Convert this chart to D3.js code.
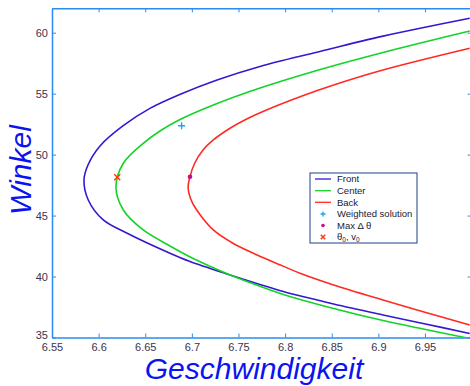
<!DOCTYPE html>
<html>
<head>
<meta charset="utf-8">
<script src="https://cdn.jsdelivr.net/npm/d3@7"></script>
<style>
  html, body { margin: 0; padding: 0; background: #fff; }
  svg { display: block; font-family: "Liberation Sans", Arial, sans-serif; }
</style>
</head>
<body>
<svg id="chart" width="470" height="386"></svg>
<script>
// ---- data (velocity v, angle theta) ----
const frontCurve = [
  [6.998, 61.19], [6.905, 59.72], [6.834, 58.40], [6.773, 57.23], [6.727, 56.12],
  [6.687, 54.93], [6.655, 53.79], [6.626, 52.35], [6.6015, 50.71], [6.5886, 49.15],
  [6.5843, 47.92], [6.5889, 46.28], [6.605, 44.64], [6.6301, 43.57], [6.6765, 41.91],
  [6.698, 41.23], [6.7409, 40.13], [6.773, 39.35], [6.798, 38.77], [6.852, 37.75],
  [6.905, 36.85], [6.948, 36.15], [6.998, 35.33]
];
const centerCurve = [
  [6.998, 60.14], [6.905, 58.38], [6.834, 56.90], [6.762, 55.18], [6.723, 54.07],
  [6.6873, 52.88], [6.6658, 51.94], [6.6479, 50.93], [6.6265, 49.29], [6.6186, 47.37],
  [6.6265, 45.46], [6.6479, 43.82], [6.6765, 42.51], [6.7015, 41.48], [6.7373, 40.25],
  [6.762, 39.51], [6.798, 38.53], [6.852, 37.38], [6.905, 36.39], [6.948, 35.70],
  [6.998, 34.92]
];
const backCurve = [
  [6.998, 58.72], [6.905, 56.94], [6.852, 55.71], [6.816, 54.75], [6.780, 53.66],
  [6.7588, 52.92], [6.7409, 52.16], [6.723, 51.20], [6.712, 50.38], [6.703, 49.29],
  [6.698, 48.19], [6.696, 47.26], [6.700, 46.14], [6.709, 45.05], [6.723, 43.82],
  [6.744, 42.73], [6.770, 41.77], [6.795, 40.95], [6.816, 40.27], [6.852, 39.31],
  [6.905, 38.08], [6.948, 37.12], [6.998, 36.03]
];
const weightedSolution = [6.689, 52.37];
const maxDeltaTheta = [6.698, 48.19];
const theta0v0 = [6.620, 48.14];

const xTicks = [6.55, 6.6, 6.65, 6.7, 6.75, 6.8, 6.85, 6.9, 6.95];
const xTickLabels = ["6.55", "6.6", "6.65", "6.7", "6.75", "6.8", "6.85", "6.9", "6.95"];
const yTicks = [35, 40, 45, 50, 55, 60];
const yTickLabels = ["35", "40", "45", "50", "55", "60"];
const legendLabels = ["Front", "Center", "Back", "Weighted solution", "Max \u0394 \u03b8", "\u03b8"];

// ---- layout ----
const svg = d3.select("#chart");
const L = 52, T = 8.3, R = 471.6, B = 337.5;
const x = d3.scaleLinear().domain([6.55, 7.0]).range([L, R]);
const y = d3.scaleLinear().domain([35, 62]).range([B, T]);

const axisColor = "#2a8cf0";
const tickTextColor = "#3a3350";
const cFront = "#3318d0", cCenter = "#12d428", cBack = "#ff2a22";

svg.append("defs").append("clipPath").attr("id", "plotclip")
  .append("rect").attr("x", L).attr("y", T).attr("width", R - L).attr("height", B - T);

const line = d3.line().x(d => x(d[0])).y(d => y(d[1])).curve(d3.curveCatmullRom.alpha(0.5));

const curves = svg.append("g").attr("clip-path", "url(#plotclip)");
[[frontCurve, cFront], [centerCurve, cCenter], [backCurve, cBack]].forEach(([data, col]) => {
  curves.append("path").datum(data).attr("d", line)
    .attr("fill", "none").attr("stroke", col).attr("stroke-width", 1.6);
});

// markers
function plus(g, cx, cy, s, col) {
  g.append("path").attr("d", `M${cx - s},${cy}H${cx + s}M${cx},${cy - s}V${cy + s}`)
    .attr("stroke", col).attr("stroke-width", 1.4).attr("fill", "none");
}
function cross(g, cx, cy, s, col) {
  g.append("path").attr("d", `M${cx - s},${cy - s}L${cx + s},${cy + s}M${cx - s},${cy + s}L${cx + s},${cy - s}`)
    .attr("stroke", col).attr("stroke-width", 1.5).attr("fill", "none");
}
const cPlus = "#18a8f0", cDot = "#c0108a", cCross = "#ff3a10";
plus(svg, x(weightedSolution[0]), y(weightedSolution[1]), 3.5, cPlus);
svg.append("circle").attr("cx", x(maxDeltaTheta[0])).attr("cy", y(maxDeltaTheta[1])).attr("r", 2.3).attr("fill", cDot);
cross(svg, x(theta0v0[0]), y(theta0v0[1]), 3, cCross);

// axes
function styleAxis(g) {
  g.select(".domain").attr("stroke", axisColor).attr("stroke-width", 1.5);
  g.selectAll(".tick line").attr("stroke", axisColor).attr("stroke-width", 1);
  g.selectAll(".tick text").attr("fill", tickTextColor).attr("font-size", 11)
    .attr("font-family", "'Liberation Sans', Arial, sans-serif");
}
svg.append("g").attr("transform", `translate(0,${B})`)
  .call(d3.axisBottom(x).tickValues(xTicks).tickFormat((d, i) => xTickLabels[i])
    .tickSizeInner(-4).tickSizeOuter(0).tickPadding(6)).call(styleAxis);
const yAxisG = svg.append("g").attr("transform", `translate(${L},0)`)
  .call(d3.axisLeft(y).tickValues(yTicks).tickFormat((d, i) => yTickLabels[i])
    .tickSizeInner(-4).tickSizeOuter(0).tickPadding(4)).call(styleAxis);
yAxisG.selectAll(".tick text").filter(d => d === 35).attr("dy", "0.08em");
svg.append("g").attr("transform", `translate(0,${T})`)
  .call(d3.axisTop(x).tickValues(xTicks).tickFormat("")
    .tickSizeInner(-4).tickSizeOuter(0)).call(styleAxis);
svg.append("g").attr("transform", `translate(${R},0)`)
  .call(d3.axisRight(y).tickValues(yTicks).tickFormat("")
    .tickSizeInner(-4).tickSizeOuter(0)).call(styleAxis);

// axis titles
svg.append("text").attr("x", 254).attr("y", 379).attr("text-anchor", "middle")
  .attr("font-size", 30).attr("font-style", "italic").attr("fill", "#0a14f0")
  .text("Geschwindigkeit");
svg.append("text").attr("transform", "translate(31,170) rotate(-90)").attr("text-anchor", "middle")
  .attr("font-size", 30).attr("font-style", "italic").attr("fill", "#0a14f0")
  .text("Winkel");

// legend
const lg = svg.append("g");
lg.append("rect").attr("x", 310).attr("y", 173).attr("width", 107).attr("height", 70)
  .attr("fill", "#fff").attr("stroke", "#1a3f8a").attr("stroke-width", 1);
const rowY = [179, 190.7, 202.3, 214, 225.5, 237];
const symX = 323;
[cFront, cCenter, cBack].forEach((col, i) => {
  lg.append("line").attr("x1", 315).attr("x2", 331).attr("y1", rowY[i]).attr("y2", rowY[i])
    .attr("stroke", col).attr("stroke-width", 1.3);
});
plus(lg, symX, rowY[3], 2.5, cPlus);
lg.append("circle").attr("cx", symX).attr("cy", rowY[4]).attr("r", 1.8).attr("fill", cDot);
cross(lg, symX, rowY[5], 2.2, cCross);
legendLabels.forEach((t, i) => {
  const tx = lg.append("text").attr("x", 337).attr("y", rowY[i]).attr("dy", "0.35em")
    .attr("font-size", 9.5).attr("fill", "#1a1a33");
  if (i === 5) {
    tx.append("tspan").text("\u03b8");
    tx.append("tspan").attr("font-size", 6.5).attr("dy", "2").text("0");
    tx.append("tspan").attr("dy", "-2").text(", v");
    tx.append("tspan").attr("font-size", 6.5).attr("dy", "2").text("0");
  } else {
    tx.text(t);
  }
});
</script>
</body>
</html>
